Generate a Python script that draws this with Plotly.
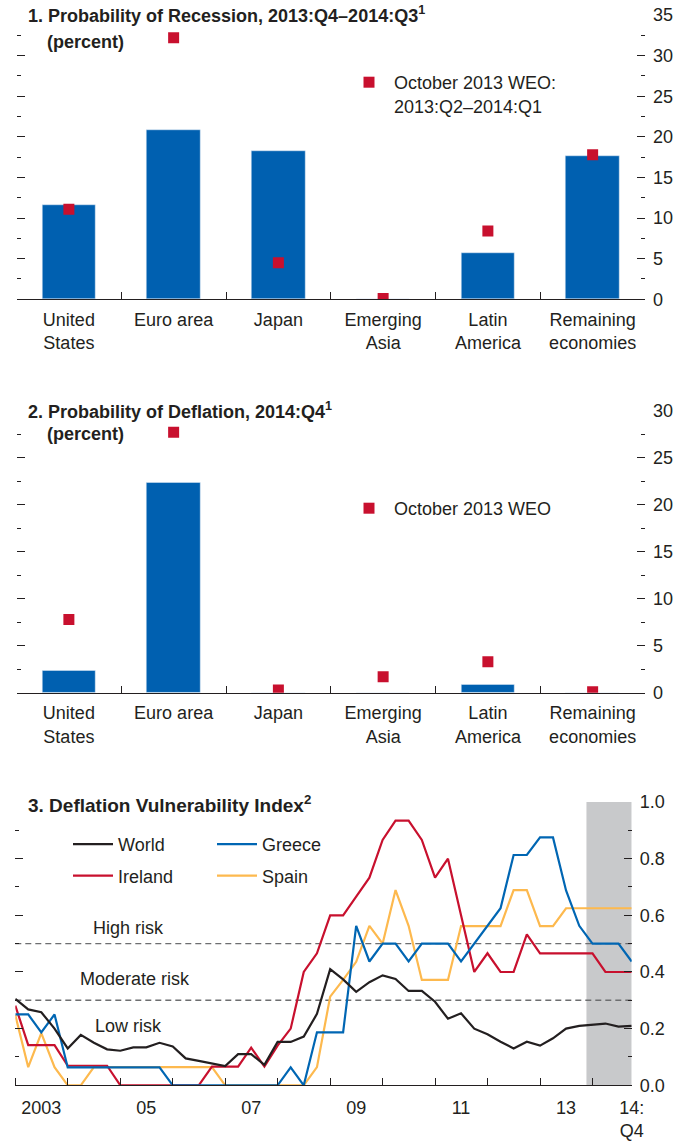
import pandas as pd
import plotly.graph_objects as go

# Panels 1 and 2: probabilities by region (percent)
regions = ["United<br>States", "Euro area", "Japan", "Emerging<br>Asia",
           "Latin<br>America", "Remaining<br>economies"]
recession_now = [11.6, 20.9, 18.2, 0.0, 5.7, 17.7]
recession_oct13 = [11.1, 32.2, 4.5, 0.1, 8.4, 17.8]
deflation_now = [2.3, 22.3, 0.0, 0.0, 0.9, 0.0]
deflation_oct13 = [7.8, 27.7, 0.3, 1.7, 3.3, 0.1]

# Panel 3: deflation vulnerability index, 2003:Q1-2014:Q4 (one row per year)
quarters = pd.period_range("2003Q1", "2014Q4", freq="Q").to_timestamp()
world = [0.305, 0.268, 0.258, 0.200,
         0.130, 0.178, 0.150, 0.127,
         0.122, 0.134, 0.134, 0.150,
         0.137, 0.095, 0.086, 0.076,
         0.068, 0.110, 0.110, 0.072,
         0.153, 0.153, 0.172, 0.252,
         0.410, 0.374, 0.330, 0.364,
         0.388, 0.375, 0.333, 0.333,
         0.295, 0.235, 0.254, 0.200,
         0.180, 0.154, 0.130, 0.154,
         0.140, 0.166, 0.200, 0.210,
         0.213, 0.218, 0.207, 0.210]
greece = [0.250, 0.250, 0.187, 0.250,
          0.063, 0.063, 0.063, 0.063,
          0.063, 0.063, 0.063, 0.063,
          0.000, 0.000, 0.000, 0.000,
          0.000, 0.000, 0.000, 0.000,
          0.000, 0.063, 0.000, 0.187,
          0.187, 0.187, 0.563, 0.437,
          0.500, 0.500, 0.437, 0.500,
          0.500, 0.500, 0.437, 0.500,
          0.563, 0.625, 0.813, 0.813,
          0.875, 0.875, 0.688, 0.563,
          0.500, 0.500, 0.500, 0.437]
ireland = [0.281, 0.142, 0.142, 0.142,
           0.069, 0.069, 0.069, 0.069,
           0.000, 0.000, 0.000, 0.000,
           0.000, 0.000, 0.000, 0.066,
           0.066, 0.066, 0.133, 0.066,
           0.140, 0.200, 0.400, 0.466,
           0.600, 0.600, 0.666, 0.733,
           0.866, 0.934, 0.934, 0.866,
           0.733, 0.800, 0.600, 0.400,
           0.466, 0.400, 0.400, 0.533,
           0.466, 0.466, 0.466, 0.466,
           0.466, 0.400, 0.400, 0.400]
spain = [0.248, 0.064, 0.184, 0.064,
         0.000, 0.000, 0.064, 0.064,
         0.064, 0.064, 0.064, 0.064,
         0.064, 0.064, 0.064, 0.064,
         0.000, 0.000, 0.000, 0.000,
         0.000, 0.000, 0.000, 0.064,
         0.313, 0.372, 0.436, 0.563,
         0.500, 0.689, 0.563, 0.372,
         0.372, 0.372, 0.562, 0.562,
         0.562, 0.562, 0.689, 0.689,
         0.562, 0.562, 0.625, 0.625,
         0.625, 0.625, 0.625, 0.625]

year_ticks = [f"{y}-01-01" for y in range(2003, 2015)]
label_pos = ["2003-07-01", "2005-07-01", "2007-07-01", "2009-07-01",
             "2011-07-01", "2013-07-01", "2014-10-01"]
label_text = ["2003", "05", "07", "09", "11", "13", "14:<br>Q4"]
risk_bands = [0.5, 0.3]

W, H = 677, 1146
FONT = "Liberation Sans, Arial, sans-serif"
INK = "#231f20"
BLUE = "#0060b0"
RED = "#c8102e"


def px(x):
    return x / W


def py(y):
    return 1 - y / H


fig = go.Figure()

# bars + October 2013 markers
for n, (now, prev, name) in enumerate([
        (recession_now, recession_oct13, "October 2013 WEO:<br>2013:Q2–2014:Q1"),
        (deflation_now, deflation_oct13, "October 2013 WEO")], start=1):
    ax = "" if n == 1 else str(n)
    fig.add_trace(go.Bar(x=regions, y=now, marker_color=BLUE, width=0.51,
                         showlegend=False, xaxis="x" + ax, yaxis="y" + ax))
    fig.add_trace(go.Scatter(x=regions, y=prev, mode="markers", name=name,
                             marker=dict(symbol="square", size=11, color=RED),
                             xaxis="x" + ax, yaxis="y" + ax,
                             legend="legend" if n == 1 else "legend2"))

# index lines (drawn Spain first so World sits on top)
lines = [("Spain", spain, "#fdb94e", "legend4", 2),
         ("Ireland", ireland, RED, "legend3", 2),
         ("Greece", greece, "#0066b3", "legend4", 1),
         ("World", world, INK, "legend3", 1)]
for name, vals, col, leg, rank in lines:
    fig.add_trace(go.Scatter(x=quarters, y=vals, mode="lines", name=name,
                             line=dict(color=col, width=2.2),
                             xaxis="x3", yaxis="y3", legend=leg,
                             legendgroup=name, legendrank=rank))

bar_x = dict(type="category", range=[-0.5, 5.5], showline=True,
             linecolor=INK, linewidth=1.3, tickson="boundaries",
             ticks="inside", ticklen=7, tickcolor=INK, ticklabelstandoff=4,
             tickfont=dict(size=18, color=INK), showgrid=False,
             domain=[px(16.5), px(645)])


def right_y(top, dtick, minor, dom):
    return dict(range=[0, top], side="right", dtick=dtick, ticks="inside",
                ticklen=8, tickcolor=INK, mirror="ticks", showline=False,
                showgrid=False, zeroline=False, ticklabelstandoff=7,
                tickfont=dict(size=18, color=INK),
                minor=dict(dtick=minor, ticks="inside", ticklen=4,
                           tickcolor=INK, showgrid=False),
                domain=dom)


fig.update_layout(
    xaxis=dict(bar_x, anchor="y"),
    yaxis=right_y(35, 5, 2.5, [py(299.3), py(15)]),
    xaxis2=dict(bar_x, anchor="y2"),
    yaxis2=dict(right_y(30, 5, 2.5, [py(692.7), py(410.7)]), anchor="x2"),
    xaxis3=dict(type="date", range=["2003-01-01", "2014-10-01"],
                anchor="y3", domain=[px(15.3), px(631.7)], showline=True,
                linecolor=INK, linewidth=1.3, showgrid=False,
                tickmode="array", tickvals=label_pos, ticktext=label_text,
                ticks="", ticklabelstandoff=6,
                tickfont=dict(size=18, color=INK),
                minor=dict(tickmode="array", tickvals=year_ticks,
                           ticks="inside", ticklen=7, tickcolor=INK,
                           showgrid=False)),
    yaxis3=dict(right_y(1.0, 0.2, 0.1, [py(1085.3), py(802)]),
                anchor="x3", tickformat=".1f"),
)

# forecast shading and risk thresholds, both under the lines
fig.add_shape(type="rect", xref="x3", yref="y3 domain",
              x0="2013-11-20", x1="2014-10-01", y0=0, y1=1,
              fillcolor="#c8c9cb", line_width=0, layer="below")
for lvl in risk_bands:
    fig.add_shape(type="line", xref="x3 domain", yref="y3", x0=0, x1=1,
                  y0=lvl, y1=lvl, layer="below",
                  line=dict(color="#6d6e70", width=1.4, dash="6px,4px"))

notes = [
    (26, 15, 18, "<b>1. Probability of Recession, 2013:Q4–2014:Q3<sup>1</sup></b>"),
    (45, 42, 18, "<b>(percent)</b>"),
    (26, 410, 18, "<b>2. Probability of Deflation, 2014:Q4<sup>1</sup></b>"),
    (45, 434, 18, "<b>(percent)</b>"),
    (26, 804, 19, "<b>3. Deflation Vulnerability Index<sup>2</sup></b>"),
]
for x, y, size, t in notes:
    fig.add_annotation(x=px(x), y=py(y), xref="paper", yref="paper", text=t,
                       xanchor="left", yanchor="middle", showarrow=False,
                       font=dict(size=size, color=INK))

for x, y, t in [("2005-03-01", 0.555, "High risk"),
                ("2005-04-10", 0.375, "Moderate risk"),
                ("2005-03-01", 0.21, "Low risk")]:
    fig.add_annotation(x=x, y=y, xref="x3", yref="y3", text=t,
                       showarrow=False, font=dict(size=18, color=INK))

leg = dict(bgcolor="rgba(0,0,0,0)", font=dict(size=18, color=INK),
           itemwidth=40, xanchor="left", yanchor="top", valign="top",
           traceorder="grouped", tracegroupgap=5)
fig.update_layout(
    width=W, height=H, margin=dict(l=0, r=0, t=0, b=0, autoexpand=False),
    paper_bgcolor="white", plot_bgcolor="white",
    font=dict(family=FONT, color=INK),
    bargap=0,
    legend=dict(leg, x=px(344), y=py(64)),
    legend2=dict(leg, x=px(344), y=py(490)),
    legend3=dict(leg, x=px(68), y=py(826)),
    legend4=dict(leg, x=px(212), y=py(826)),
)

# the page body has a default 8px margin; drop it so the figure fills the window
fig.write_html("out.html", config={"displayModeBar": False},
               post_script="document.body.style.margin='0px';")
